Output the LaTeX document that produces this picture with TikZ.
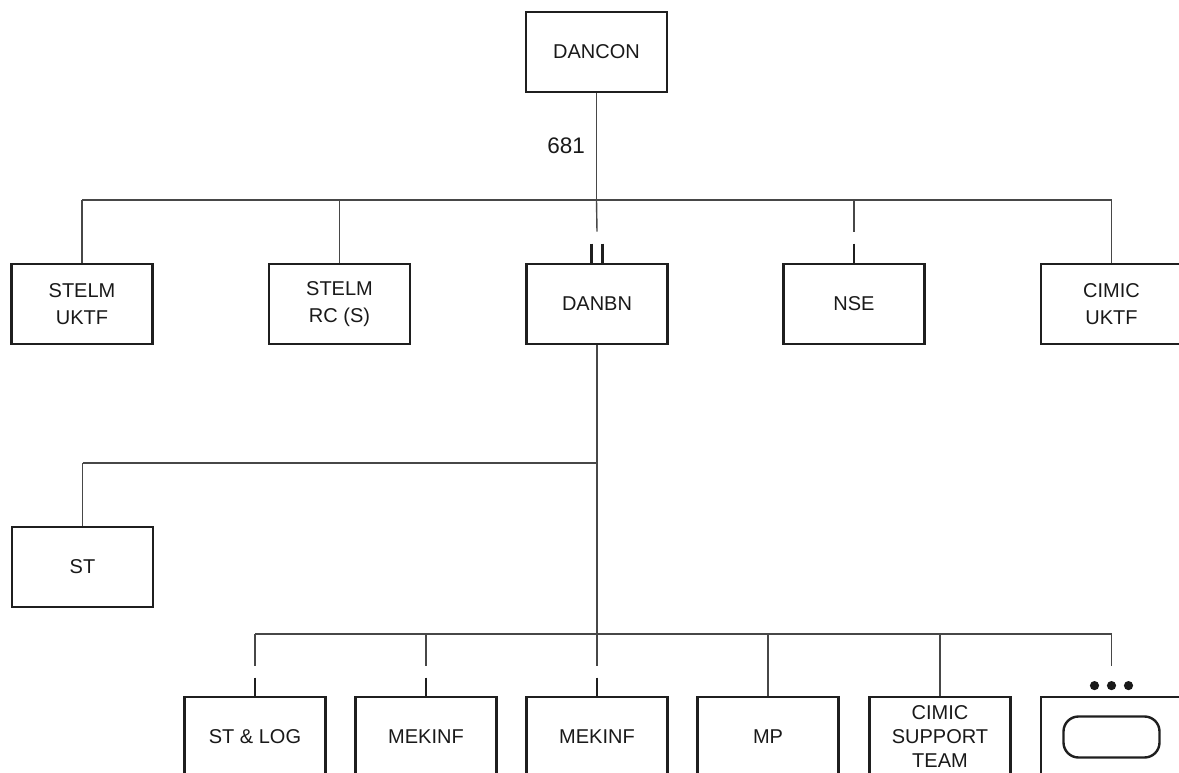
\documentclass[tikz,border=0pt]{standalone}
\usepackage{fontspec}
\setmainfont{Liberation Sans}
\begin{document}
\begin{tikzpicture}[x=1pt,y=-1pt,
  box/.style={draw=black!88,line width=2.8pt,minimum width=141pt,minimum height=80pt,inner sep=0pt,align=center,font=\fontsize{20}{27}\selectfont,text=black!90},
  tightbox/.style={box,font=\fontsize{20}{24}\selectfont},
  conn/.style={draw=black!72,line width=1.4pt},
  tick/.style={draw=black!88,line width=2.8pt},
  lbl/.style={font=\fontsize{22.5}{26}\selectfont,text=black!90,inner sep=0pt}]
\useasboundingbox (0,0) rectangle (1179,773);
% level 0
\node[box] (dancon) at (596.5,52) {DANCON};
% level 1
\node[box] (s1) at (82,304) {STELM\\UKTF};
\node[box] (s2) at (339.5,304) {STELM\\RC (S)};
\node[box] (danbn) at (597,304) {DANBN};
\node[box] (nse) at (854,304) {NSE};
\node[box] (cu) at (1111.5,304) {CIMIC\\UKTF};
% level 2
\node[box] (st) at (82.5,567) {ST};
% level 3
\node[box] (b1) at (255,737) {ST \& LOG};
\node[box] (b2) at (426,737) {MEKINF};
\node[box] (b3) at (597,737) {MEKINF};
\node[box] (b4) at (768,737) {MP};
\node[tightbox] (b5) at (940,737) {CIMIC\\SUPPORT\\TEAM};
\node[box] (b6) at (1111.5,737) {};
\node[draw=black!88,line width=2.4pt,rounded corners=15pt,minimum width=96pt,minimum height=41pt,inner sep=0pt] (b6in) at (b6.center) {};
\foreach \dx in {-17,0,17} \fill[black!90] ([xshift=\dx pt,yshift=10pt]b6.north) circle (4.6pt);
% junctions
\coordinate (j1) at (596.5,200);
\coordinate (j2) at (597,463);
\coordinate (j3) at (597,634);
\node[lbl,anchor=east] (n681) at (585,146) {681};
% level 0 -> level 1
\draw[conn] (dancon.south) -- (j1);
\draw[conn] (s1.north |- j1) -- (cu.north |- j1);
\draw[conn] (s1.north |- j1) -- (s1.north);
\draw[conn] (s2.north |- j1) -- (s2.north);
\draw[conn] (cu.north |- j1) -- (cu.north);
\draw[conn] (j1) -- ([yshift=31pt]danbn.north);
\draw[tick] ([xshift=-5.5pt,yshift=19pt]danbn.north) -- ([xshift=-5.5pt]danbn.north);
\draw[tick] ([xshift=5.5pt,yshift=19pt]danbn.north) -- ([xshift=5.5pt]danbn.north);
\draw[conn] (nse.north |- j1) -- ([yshift=31pt]nse.north);
\draw[tick] ([yshift=19pt]nse.north) -- (nse.north);
% DANBN downward
\draw[conn] (danbn.south) -- ([yshift=30pt]b3.north);
\draw[tick] ([yshift=18pt]b3.north) -- (b3.north);
\draw[conn] (st.north |- j2) -- (j2);
\draw[conn] (st.north |- j2) -- (st.north);
\draw[conn] (b1.north |- j3) -- (b6.north |- j3);
\draw[conn] (b1.north |- j3) -- ([yshift=30pt]b1.north);
\draw[tick] ([yshift=18pt]b1.north) -- (b1.north);
\draw[conn] (b2.north |- j3) -- ([yshift=30pt]b2.north);
\draw[tick] ([yshift=18pt]b2.north) -- (b2.north);
\draw[conn] (b4.north |- j3) -- (b4.north);
\draw[conn] (b5.north |- j3) -- (b5.north);
\draw[conn] (b6.north |- j3) -- ([yshift=30pt]b6.north);
\end{tikzpicture}
\end{document}
